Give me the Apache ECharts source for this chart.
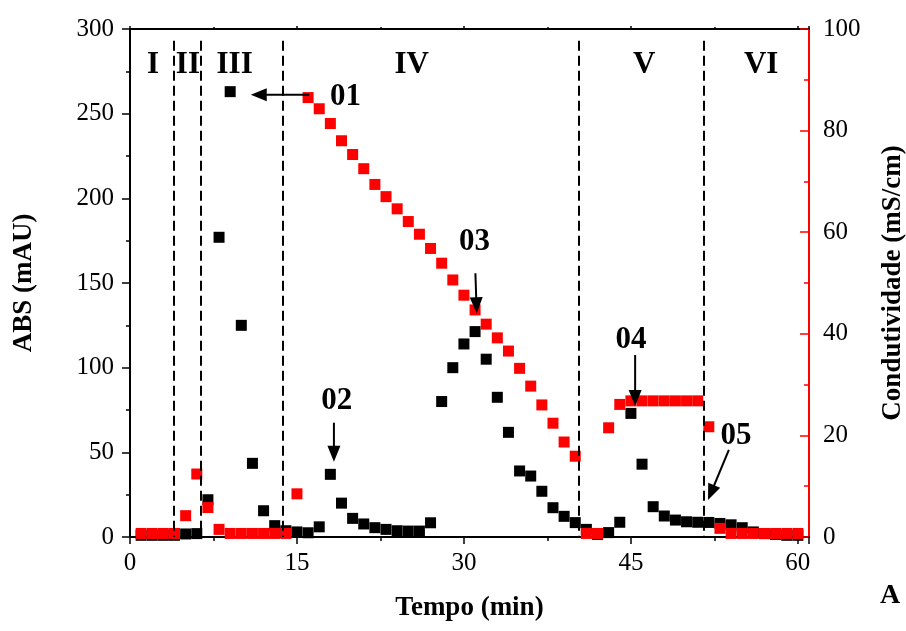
<!DOCTYPE html>
<html>
<head>
<meta charset="utf-8">
<script src="https://cdn.jsdelivr.net/npm/echarts@6/dist/echarts.min.js"></script>
<style>
  html, body { margin: 0; padding: 0; background: #fff; }
  #chart { width: 906px; height: 631px; }
</style>
</head>
<body>
<div id="chart"></div>
<script>
// Tempo de eluição (min)
const tempo = [1, 2, 3, 4, 5, 6, 7, 8, 9, 10, 11, 12, 13, 14, 15, 16, 17, 18, 19, 20,
  21, 22, 23, 24, 25, 26, 27, 28, 29, 30, 31, 32, 33, 34, 35, 36, 37, 38, 39, 40,
  41, 42, 43, 44, 45, 46, 47, 48, 49, 50, 51, 52, 53, 54, 55, 56, 57, 58, 59, 60];

// Absorbância (mAU)
const absorbancia = [1, 1, 1, 1, 1.8, 2, 22, 177, 263, 125, 43.5, 15.5, 6.7, 3.7, 3, 2.5, 6, 37, 20, 11,
  7.7, 5.5, 4.5, 3.7, 3.5, 3.5, 8.4, 80, 100, 114, 121.3, 105, 82.5, 61.8, 39, 36, 27, 17.3, 12.2, 8.5,
  4.5, 1.5, 2.6, 8.7, 73, 43, 17.9, 12.4, 10, 9, 8.7, 8.6, 8, 7.2, 5.5, 3, 2, 1.5, 1, 1];

// Condutividade (mS/cm)
const condutividade = [0.7, 0.7, 0.7, 0.7, 4.2, 12.4, 5.8, 1.5, 0.7, 0.7, 0.7, 0.7, 0.7, 0.7, 8.5, 86.5, 84.3, 81.4, 78, 75.3,
  72.5, 69.4, 67, 64.6, 62.1, 59.6, 56.8, 53.9, 50.6, 47.6, 44.7, 41.9, 39.2, 36.6, 33.2, 29.7, 26, 22.4, 18.7, 15.9,
  0.7, 0.7, 21.5, 26.1, 26.8, 26.8, 26.8, 26.8, 26.8, 26.8, 26.8, 21.7, 1.7, 0.7, 0.7, 0.7, 0.7, 0.7, 0.7, 0.7];

// Limites entre as etapas (min) e rótulos das etapas
const limitesEtapas = [3.9, 6.35, 13.7, 40.35, 51.55];
const rotulosEtapas = ['I', 'II', 'III', 'IV', 'V', 'VI'];
const posicaoEtapas = [2.06, 5.2, 9.4, 25.3, 46.2, 56.7];
const alturaEtapas = 278.8;

// Picos identificados: texto, posição do rótulo e seta (eixo ABS)
const rotulosPicos = ['01', '02', '03', '04', '05'];
const posicaoPicos = [[19.37, 259.9], [18.57, 80.3], [30.94, 174.2], [45.02, 116.4], [54.44, 59.7]];
const setaInicio = [[16.1, 261.1], [18.32, 67.5], [31.03, 155.8], [45.38, 107.5], [53.8, 51.4]];
const setaPonta = [[10.85, 261.1], [18.32, 44.5], [31.15, 132.1], [45.38, 77.4], [51.93, 21.9]];

const fonte = '"Liberation Serif", "Times New Roman", serif';
const chart = echarts.init(document.getElementById('chart'));

const axisText = { color: '#000', fontFamily: fonte, fontSize: 25 };

chart.setOption({
  animation: false,
  backgroundColor: '#fff',
  grid: { left: 130, right: 97, top: 29, bottom: 94, containLabel: false, outerBoundsMode: 'none' },
  xAxis: [
    {
      type: 'value', min: 0, max: 61, interval: 15,
      name: 'Tempo (min)', nameLocation: 'middle', nameGap: 58,
      nameTextStyle: { color: '#000', fontFamily: fonte, fontSize: 27, fontWeight: 'bold' },
      axisLine: { show: true, onZero: false, lineStyle: { color: '#000', width: 2 } },
      axisTick: { show: true, length: 7, lineStyle: { color: '#000', width: 1.5 } },
      minorTick: { show: true, splitNumber: 2, length: 4, lineStyle: { color: '#000', width: 1.5 } },
      axisLabel: Object.assign({ margin: 14 }, axisText),
      splitLine: { show: false }
    },
    {
      type: 'value', min: 0, max: 61, interval: 15, position: 'top',
      axisLine: { show: true, onZero: false, lineStyle: { color: '#000', width: 2 } },
      axisTick: { show: true, length: 3, lineStyle: { color: '#000', width: 1.5 } },
      minorTick: { show: true, splitNumber: 2, length: 2, lineStyle: { color: '#000', width: 1.5 } },
      axisLabel: { show: false },
      splitLine: { show: false }
    }
  ],
  yAxis: [
    {
      type: 'value', min: 0, max: 300, interval: 50, position: 'left',
      name: 'ABS (mAU)', nameLocation: 'middle', nameGap: 92,
      nameTextStyle: { color: '#000', fontFamily: fonte, fontSize: 27, fontWeight: 'bold' },
      axisLine: { show: true, onZero: false, lineStyle: { color: '#000', width: 2 } },
      axisTick: { show: true, length: 8, lineStyle: { color: '#000', width: 1.5 } },
      minorTick: { show: true, splitNumber: 2, length: 4, lineStyle: { color: '#000', width: 1.5 } },
      axisLabel: Object.assign({ margin: 16 }, axisText),
      splitLine: { show: false }
    },
    {
      type: 'value', min: 0, max: 100, interval: 20, position: 'right',
      name: 'Condutividade (mS/cm)', nameLocation: 'middle', nameGap: 71,
      nameRotate: 90,
      nameTextStyle: { color: '#000', fontFamily: fonte, fontSize: 27, fontWeight: 'bold' },
      axisLine: { show: true, onZero: false, lineStyle: { color: '#ff0000', width: 2 } },
      axisTick: { show: true, inside: true, length: 9, lineStyle: { color: '#ff0000', width: 1.5 } },
      minorTick: { show: true, splitNumber: 2, length: 5, lineStyle: { color: '#ff0000', width: 1.5 } },
      axisLabel: Object.assign({ margin: 14 }, axisText),
      splitLine: { show: false }
    }
  ],
  series: [
    {
      name: 'ABS',
      type: 'scatter',
      xAxisIndex: 0, yAxisIndex: 0,
      symbol: 'rect', symbolSize: 11,
      itemStyle: { color: '#000', opacity: 1 },
      data: tempo.map((t, i) => [t, absorbancia[i]]),
      z: 2,
      markLine: {
        silent: true,
        symbol: ['none', 'none'],
        label: { show: false },
        lineStyle: { color: '#000', width: 2, type: [10, 5], opacity: 1 },
        data: limitesEtapas.map(x => [{ coord: [x, 293] }, { coord: [x, 0] }])
      }
    },
    {
      name: 'Condutividade',
      type: 'scatter',
      xAxisIndex: 0, yAxisIndex: 1,
      symbol: 'rect', symbolSize: 11,
      itemStyle: { color: '#ff0000', opacity: 1 },
      data: tempo.map((t, i) => [t, condutividade[i]]),
      z: 3
    }
  ]
});

// Anotações: rótulos das etapas, dos picos e setas
const px = p => chart.convertToPixel({ xAxisIndex: 0, yAxisIndex: 0 }, p);
const graficos = [];

rotulosEtapas.forEach((txt, i) => {
  const [x, y] = px([posicaoEtapas[i], alturaEtapas]);
  graficos.push({
    type: 'text', x: x, y: y, z: 10,
    style: { text: txt, fill: '#000', font: 'bold 31px ' + fonte, align: 'center', verticalAlign: 'middle' }
  });
});

rotulosPicos.forEach((txt, i) => {
  const [x, y] = px(posicaoPicos[i]);
  graficos.push({
    type: 'text', x: x, y: y, z: 10,
    style: { text: txt, fill: '#000', font: 'bold 31px ' + fonte, align: 'center', verticalAlign: 'middle' }
  });
});

setaInicio.forEach((ini, i) => {
  const a = px(ini);
  const b = px(setaPonta[i]);
  const dx = b[0] - a[0], dy = b[1] - a[1];
  const len = Math.hypot(dx, dy);
  const ux = dx / len, uy = dy / len;
  const head = 16, half = 6.5;
  const bx = b[0] - ux * head, by = b[1] - uy * head;
  graficos.push({
    type: 'line', z: 10,
    shape: { x1: a[0], y1: a[1], x2: bx + ux * 2, y2: by + uy * 2 },
    style: { stroke: '#000', lineWidth: 2 }
  });
  graficos.push({
    type: 'polygon', z: 10,
    shape: { points: [[b[0], b[1]], [bx - uy * half, by + ux * half], [bx + uy * half, by - ux * half]] },
    style: { fill: '#000' }
  });
});

graficos.push({
  type: 'text', left: 880, top: 582, z: 10,
  style: { text: 'A', fill: '#000', font: 'bold 28px ' + fonte }
});

chart.setOption({ graphic: graficos });
</script>
</body>
</html>
